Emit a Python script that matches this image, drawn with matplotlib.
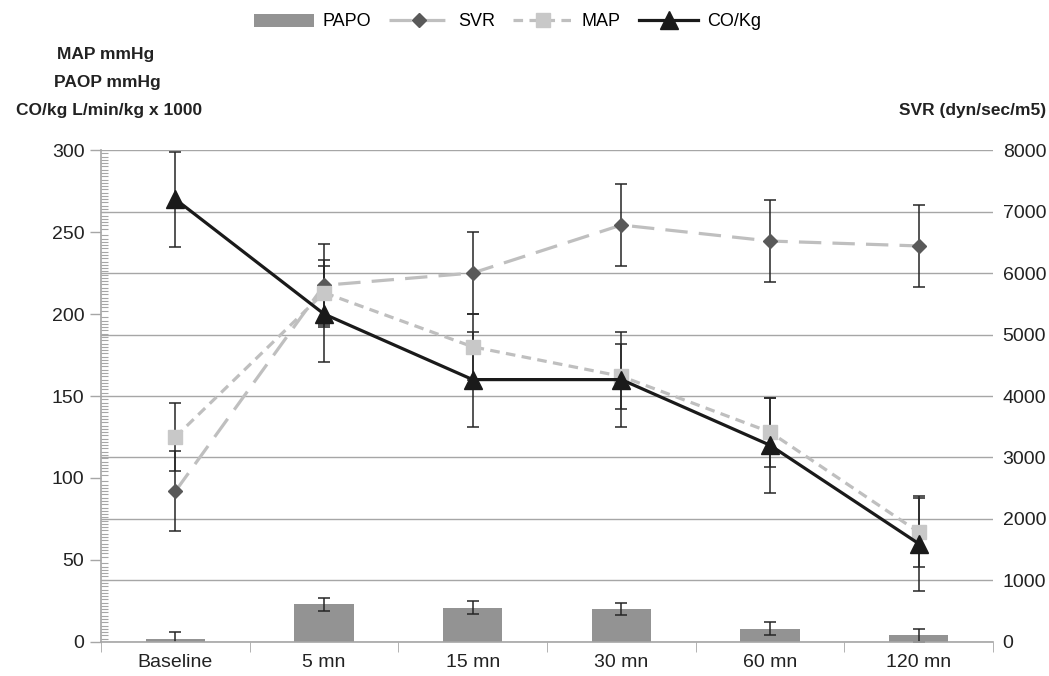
import numpy as np
import matplotlib
matplotlib.use('Agg')
import matplotlib.pyplot as plt
from matplotlib.ticker import MultipleLocator

plt.rcParams['font.family'] = ['Liberation Sans', 'DejaVu Sans']

# data
times = ['Baseline', '5 mn', '15 mn', '30 mn', '60 mn', '120 mn']
papo = [2, 23, 21, 20, 8, 4]
papo_err = [4, 4, 4, 3.5, 4, 4]
svr = [2450, 5800, 6000, 6780, 6520, 6440]
svr_err = [650, 670, 660, 660, 665, 665]
map_ = [125, 213, 180, 162, 128, 67]
map_err = [21, 20, 20, 20, 21, 21]
co_kg = [270, 200, 160, 160, 120, 60]
co_err = [29, 29, 29, 29, 29, 29]

x = np.arange(len(times))
grid_c = '#a6a6a6'
err_c = '#262626'
tick_size = 14

fig = plt.figure(figsize=(10.49, 6.76), dpi=100)
ax = fig.add_axes([0.0963, 0.0503, 0.8503, 0.7278])
ax2 = ax.twinx()

# ax2 holds SVR scale and the grid, ax (left) drawn on top of it
ax.set_zorder(ax2.get_zorder() + 1)
ax.patch.set_visible(False)

ax2.set_ylim(0, 8000)
ax2.set_yticks(np.arange(0, 8001, 1000))
ax2.grid(axis='y', color=grid_c, lw=1.0)
ax2.set_axisbelow(True)
ax2.tick_params(axis='y', length=0, pad=7, labelsize=tick_size, colors='#222222')
for s in ax2.spines.values():
    s.set_visible(False)

ax.set_xlim(-0.5, len(times) - 0.5)
ax.set_ylim(0, 300)

bars = ax.bar(x, papo, width=0.4, color='#939393', zorder=1, label='PAPO')

# SVR goes on the right scale; convert so it can share the left axes
svr_left = np.array(svr) * 300 / 8000
svr_err_left = np.array(svr_err) * 300 / 8000

for yv, ye in [(papo, papo_err), (svr_left, svr_err_left), (map_, map_err), (co_kg, co_err)]:
    ax.errorbar(x, yv, yerr=ye, fmt='none', ecolor=err_c, elinewidth=1.1,
                capsize=4.5, capthick=1.1, zorder=2)

l_svr, = ax.plot(x, svr_left, color='#bfbfbf', lw=2.3, dashes=(7, 3.5),
                 marker='D', ms=7.5, mfc='#595959', mec='#595959', zorder=3, label='SVR')
l_map, = ax.plot(x, map_, color='#bfbfbf', lw=2.3, dashes=(3, 2),
                 marker='s', ms=9.5, mfc='#c8c8c8', mec='#c8c8c8', zorder=4, label='MAP')
l_co, = ax.plot(x, co_kg, color='#1a1a1a', lw=2.3, marker='^', ms=13,
                mfc='#1a1a1a', mec='#1a1a1a', zorder=5, label='CO/Kg')

ax.set_yticks(np.arange(0, 301, 50))
ax.yaxis.set_minor_locator(MultipleLocator(2))
ax.tick_params(axis='y', which='major', direction='out', length=8, width=1,
               color=grid_c, labelsize=tick_size, labelcolor='#222222', pad=4)
ax.tick_params(axis='y', which='minor', direction='in', length=5, width=0.8, color=grid_c)

ax.set_xticks(x)
ax.set_xticklabels(times)
ax.set_xticks(np.arange(-0.5, len(times)), minor=True)
ax.tick_params(axis='x', which='major', length=0, labelsize=tick_size, labelcolor='#222222', pad=9)
ax.tick_params(axis='x', which='minor', direction='out', length=7, color=grid_c)

for side in ['top', 'right']:
    ax.spines[side].set_visible(False)
ax.spines['left'].set_color(grid_c)
ax.spines['bottom'].set_color(grid_c)
ax.spines['left'].set_linewidth(1.2)
ax.spines['bottom'].set_linewidth(1.2)

tf = dict(ha='center', va='center', fontsize=12.5, fontweight='bold', color='#222222')
fig.text(0.101, 1 - 55 / 676, 'MAP mmHg', **tf)
fig.text(0.102, 1 - 82 / 676, 'PAOP mmHg', **tf)
fig.text(0.104, 1 - 110 / 676, 'CO/kg L/min/kg x 1000', **tf)
tf['ha'] = 'right'
fig.text(0.997, 1 - 110 / 676, 'SVR (dyn/sec/m5)', **tf)

fig.legend([bars, l_svr, l_map, l_co], ['PAPO', 'SVR', 'MAP', 'CO/Kg'],
           loc='center', bbox_to_anchor=(0.484, 1 - 22 / 676), ncol=4, frameon=False,
           fontsize=13, handlelength=3.3, handletextpad=0.5, columnspacing=1.0)

fig.savefig('out.png', dpi=100)
